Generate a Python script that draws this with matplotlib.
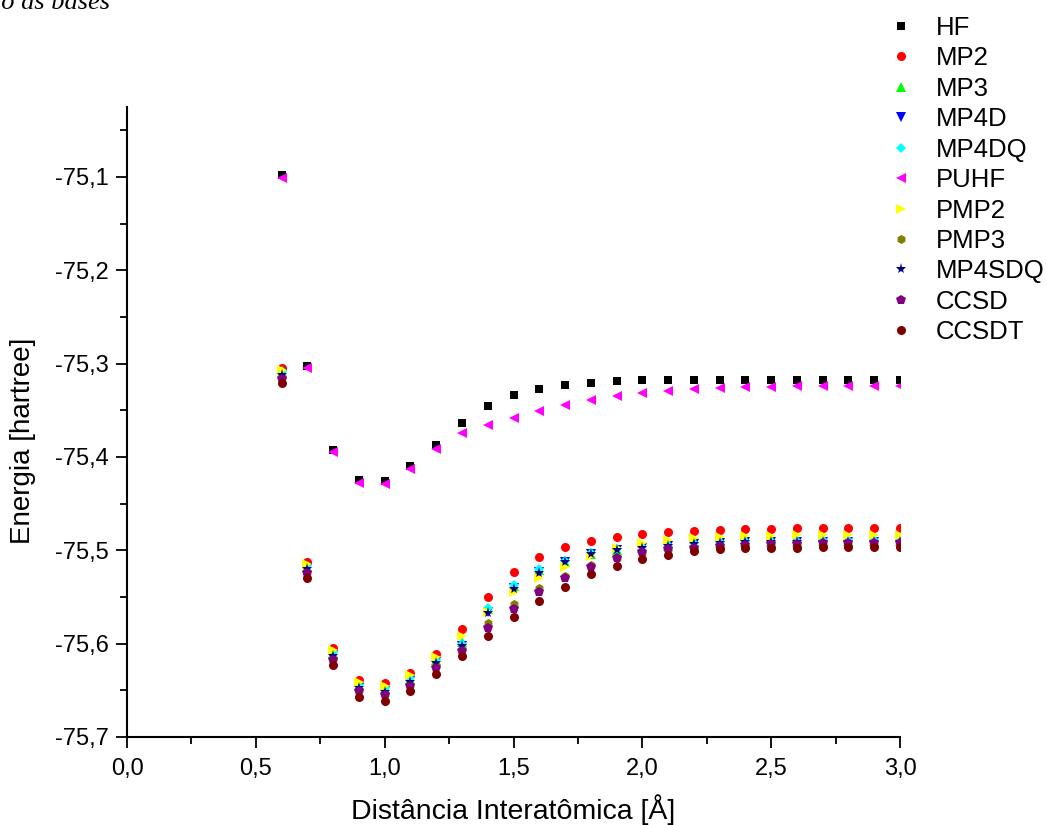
import matplotlib
matplotlib.use("Agg")
import matplotlib.pyplot as plt
from matplotlib.ticker import MultipleLocator, FuncFormatter

plt.rcParams['font.family'] = ['Liberation Sans', 'DejaVu Sans']

distance = [0.6, 0.7, 0.8, 0.9, 1.0, 1.1, 1.2, 1.3, 1.4, 1.5, 1.6, 1.7, 1.8,
            1.9, 2.0, 2.1, 2.2, 2.3, 2.4, 2.5, 2.6, 2.7, 2.8, 2.9, 3.0]

hf = [-75.098, -75.303, -75.392, -75.425, -75.426, -75.410, -75.387, -75.364,
      -75.345, -75.334, -75.327, -75.323, -75.321, -75.319, -75.318, -75.318,
      -75.317, -75.317, -75.317, -75.317, -75.317, -75.317, -75.317, -75.317, -75.317]
mp2 = [-75.305, -75.512, -75.605, -75.639, -75.642, -75.631, -75.611, -75.584,
       -75.550, -75.523, -75.507, -75.496, -75.490, -75.486, -75.482, -75.480,
       -75.479, -75.478, -75.477, -75.477, -75.476, -75.476, -75.476, -75.476, -75.476]
mp3 = [-75.309, -75.518, -75.610, -75.645, -75.649, -75.638, -75.618, -75.598,
       -75.563, -75.538, -75.521, -75.512, -75.504, -75.500, -75.497, -75.495,
       -75.493, -75.492, -75.491, -75.491, -75.491, -75.490, -75.490, -75.490, -75.490]
mp4d = [-75.311, -75.519, -75.612, -75.647, -75.651, -75.640, -75.620, -75.602,
        -75.566, -75.540, -75.523, -75.513, -75.504, -75.500, -75.497, -75.495,
        -75.493, -75.492, -75.491, -75.491, -75.491, -75.491, -75.491, -75.491, -75.491]
mp4dq = [-75.308, -75.517, -75.609, -75.644, -75.648, -75.637, -75.617, -75.600,
         -75.562, -75.537, -75.520, -75.511, -75.503, -75.499, -75.496, -75.494,
         -75.492, -75.491, -75.490, -75.490, -75.490, -75.489, -75.489, -75.489, -75.489]
puhf = [-75.101, -75.305, -75.395, -75.428, -75.429, -75.413, -75.391, -75.374,
        -75.366, -75.358, -75.351, -75.344, -75.339, -75.335, -75.331, -75.329,
        -75.327, -75.326, -75.325, -75.325, -75.324, -75.324, -75.324, -75.324, -75.324]
pmp2 = [-75.307, -75.515, -75.607, -75.641, -75.645, -75.634, -75.614, -75.592,
        -75.566, -75.545, -75.530, -75.518, -75.506, -75.498, -75.492, -75.489,
        -75.487, -75.486, -75.485, -75.485, -75.484, -75.484, -75.484, -75.484, -75.484]
pmp3 = [-75.314, -75.523, -75.616, -75.650, -75.654, -75.644, -75.624, -75.606,
        -75.578, -75.557, -75.540, -75.528, -75.516, -75.508, -75.503, -75.499,
        -75.497, -75.496, -75.495, -75.494, -75.494, -75.494, -75.494, -75.494, -75.494]
mp4sdq = [-75.312, -75.520, -75.613, -75.648, -75.652, -75.641, -75.621, -75.603,
          -75.567, -75.541, -75.524, -75.513, -75.504, -75.500, -75.497, -75.495,
          -75.493, -75.492, -75.491, -75.491, -75.491, -75.491, -75.491, -75.491, -75.491]
ccsd = [-75.316, -75.524, -75.617, -75.651, -75.655, -75.645, -75.626, -75.608,
        -75.583, -75.563, -75.545, -75.530, -75.518, -75.508, -75.502, -75.499,
        -75.497, -75.495, -75.494, -75.493, -75.493, -75.492, -75.492, -75.492, -75.492]
ccsdt = [-75.321, -75.530, -75.623, -75.657, -75.661, -75.651, -75.632, -75.613,
         -75.592, -75.571, -75.554, -75.539, -75.525, -75.517, -75.509, -75.505,
         -75.501, -75.499, -75.498, -75.497, -75.497, -75.496, -75.496, -75.496, -75.496]

labels = ["HF", "MP2", "MP3", "MP4D", "MP4DQ", "PUHF", "PMP2", "PMP3",
          "MP4SDQ", "CCSD", "CCSDT"]
series = [hf, mp2, mp3, mp4d, mp4dq, puhf, pmp2, pmp3, mp4sdq, ccsd, ccsdt]
colors = ["#000000", "#ff0000", "#00ff00", "#0000ff", "#00ffff", "#ff00ff",
          "#ffff00", "#808000", "#000080", "#800080", "#800000"]
markers = ["s", "o", "^", "v", "D", "<", ">", "h", "*", "p", "o"]
sizes = [5.5, 6.5, 6.5, 6.5, 5.5, 7, 7, 6.5, 8, 7, 6.5]

fig = plt.figure(figsize=(10.47, 8.25), dpi=100)
ax = fig.add_axes([127/1047, 1-737/825, (900-127)/1047, (737-107)/825])

for y, lab, c, m, s in zip(series, labels, colors, markers, sizes):
    ax.plot(distance, y, linestyle='none', marker=m, color=c, markersize=s,
            markeredgewidth=0, label=lab)

ax.set_xlim(0, 3.0)
ax.set_ylim(-75.7, -75.025)
ax.xaxis.set_major_locator(MultipleLocator(0.5))
ax.xaxis.set_minor_locator(MultipleLocator(0.25))
ax.yaxis.set_major_locator(MultipleLocator(0.1))
ax.yaxis.set_minor_locator(MultipleLocator(0.05))
ax.xaxis.set_major_formatter(FuncFormatter(lambda v, p: f"{v:.1f}".replace('.', ',')))
ax.yaxis.set_major_formatter(FuncFormatter(lambda v, p: f"{v:.1f}".replace('.', ',')))

for side in ['top', 'right']:
    ax.spines[side].set_visible(False)
for side in ['left', 'bottom']:
    ax.spines[side].set_linewidth(1.5)
ax.tick_params(which='major', direction='out', length=8, width=1.3,
               labelsize=17, colors='black', pad=5)
ax.tick_params(axis='x', which='major', pad=7)
ax.tick_params(which='minor', direction='out', length=5, width=1.3)

ax.set_xlabel("Distância Interatômica [Å]", fontsize=20.5, labelpad=10)
ax.set_ylabel("Energia [hartree]", fontsize=20)
ax.yaxis.set_label_coords(-0.118, (737 - 441) / 630)

fig.legend(loc='upper left', bbox_to_anchor=(868/1047, 1 + 2/825), frameon=False,
           fontsize=18.5, labelspacing=0.25, handletextpad=0.75, handlelength=1.2,
           borderpad=0.2)

fig.text(110/1047, 1 - 9/825, "ão as bases", fontsize=19, family='Liberation Serif',
         style='italic', va='baseline', ha='right')

fig.savefig("out.png", dpi=100)
